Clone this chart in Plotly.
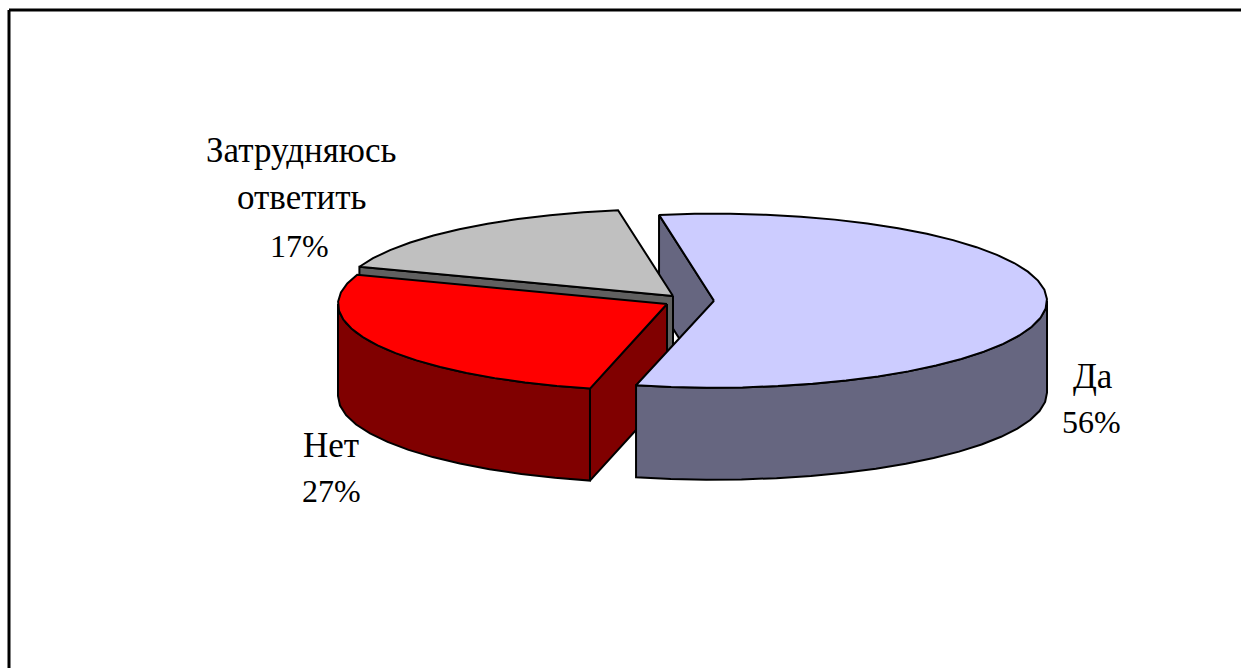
import math
import plotly.graph_objects as go

# Data
categories = ["Да", "Нет", "Затрудняюсь ответить"]
values = [56.4, 26.7, 16.9]          # labels round them
percent_labels = ["56%", "27%", "17%"]
label_lines = [["Да"], ["Нет"], ["Затрудняюсь", "ответить"]]

# Styles
top_colors = ["#CCCCFF", "#FF0000", "#C0C0C0"]
side_colors = ["#666680", "#800000", "#606060"]
centers = [(714.0, 300.7), (667.0, 304.0), (673.0, 296.0)]   # exploded pie centres
radii_x = [333.0, 329.0, 333.0]
RY = 87.0
DEPTH = 92.0
START = 99.5
STEP = 6.0
LW = 2
NAME_FONT = dict(family="Liberation Serif", size=35, color="black")
PCT_FONT = dict(family="Liberation Serif", size=32, color="black")
label_anchor = [
    [(1093, 376), (1091, 422)],
    [(331, 445), (331, 491)],
    [(301, 150), (301, 197), (299, 246)],
]

# angles from values
spans = []
a = START
for v in values:
    b = a - v / sum(values) * 360
    spans.append((a, b))
    a = b


def arc(i, a0, a1, dy=0.0):
    cx, cy = centers[i]
    n = max(1, int(abs(a1 - a0) / STEP))
    pts = []
    for k in range(n + 1):
        t = math.radians(a0 + (a1 - a0) * k / n)
        pts.append((cx + radii_x[i] * math.cos(t), cy - RY * math.sin(t) + dy))
    return pts


def poly(pts, color, name):
    xs = [p[0] for p in pts] + [pts[0][0]]
    ys = [p[1] for p in pts] + [pts[0][1]]
    return go.Scatter(x=xs, y=ys, mode="lines", fill="toself", fillcolor=color,
                      line=dict(color="black", width=LW), name=name,
                      hoverinfo="skip", showlegend=False)


def top(i):
    return poly([centers[i]] + arc(i, *spans[i]), top_colors[i], categories[i])


def radial_wall(i, angle):
    p0 = centers[i]
    p1 = arc(i, angle, angle)[0]
    return poly([p0, p1, (p1[0], p1[1] + DEPTH), (p0[0], p0[1] + DEPTH)],
                side_colors[i], categories[i])


def rim_wall(i):
    a0, a1 = spans[i]
    lo, hi = max(a1, -180.0), min(a0, 0.0)
    upper = arc(i, hi, lo)
    lower = arc(i, lo, hi, DEPTH)
    return poly(upper + lower, side_colors[i], categories[i])


fig = go.Figure()
# Inner wall of the exploded slice lies behind the other two
fig.add_trace(radial_wall(0, spans[0][0]))
# Third slice: wall along its first edge and top
fig.add_trace(radial_wall(2, spans[2][0]))
fig.add_trace(top(2))
# Second slice
fig.add_trace(radial_wall(1, spans[1][0]))
fig.add_trace(rim_wall(1))
fig.add_trace(top(1))
# First slice in front
fig.add_trace(rim_wall(0))
fig.add_trace(top(0))

annotations = []
for lines, pct, anchors in zip(label_lines, percent_labels, label_anchor):
    for text, (x, y) in zip(lines + [pct], anchors):
        annotations.append(dict(x=x, y=y, text=text, showarrow=False,
                                font=PCT_FONT if text == pct else NAME_FONT,
                                xanchor="center", yanchor="middle"))

shapes = [
    dict(type="line", x0=9, y0=10, x1=1241, y1=10, line=dict(color="black", width=3)),
    dict(type="line", x0=9, y0=10, x1=9, y1=668, line=dict(color="black", width=3)),
]

fig.update_layout(
    width=1241, height=668, margin=dict(l=0, r=0, t=0, b=0),
    paper_bgcolor="white", plot_bgcolor="white", showlegend=False,
    xaxis=dict(range=[0, 1241], visible=False, fixedrange=True),
    yaxis=dict(range=[668, 0], visible=False, fixedrange=True),
    annotations=annotations, shapes=shapes,
)
fig.write_html(
    "out.html", config={"displayModeBar": False},
    post_script="document.body.style.margin='0';document.body.style.overflow='hidden';",
)
